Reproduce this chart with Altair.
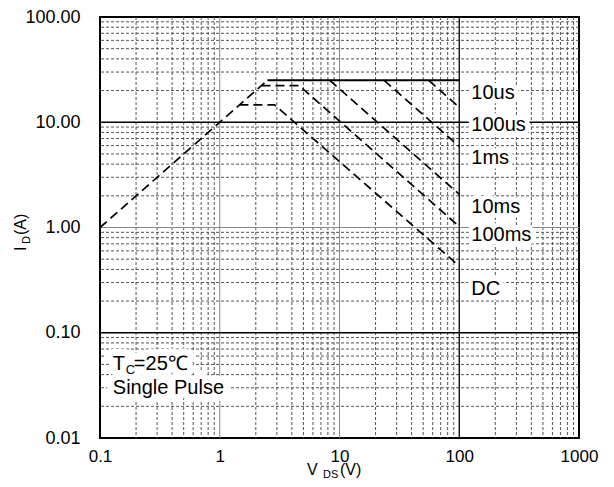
import altair as alt
import pandas as pd

# ---------------- data ----------------
x_ticks = [0.1, 1, 10, 100, 1000]
y_ticks = [0.01, 0.1, 1, 10, 100]

# R_DS(on) limit (rising line) and package current limit (flat line)
rise_v = [0.1, 2.5]
rise_i = [1.0, 25.0]
limit_v = [2.5, 100]
limit_i = [25.0, 25.0]

# pulse-width curves
us10_v = [55.6, 100]
us10_i = [25.0, 13.9]
us100_v = [23.6, 100]
us100_i = [25.0, 5.9]
ms1_v = [8.3, 100]
ms1_i = [25.0, 2.07]
ms10_v = [2.23, 4.6, 100]
ms10_i = [22.3, 22.3, 1.02]
ms100_v = [1.46, 2.87, 100]
ms100_i = [14.6, 14.6, 0.43]

label_text = ["10us", "100us", "1ms", "10ms", "100ms", "DC"]
label_v = [126, 126, 126, 126, 126, 126]
label_i = [18.8, 9.4, 4.57, 1.58, 0.84, 0.262]

note_v = [0.128]
note_i_line1 = [0.0439]
note_i_line2 = [0.026]

# ---------------- build tables ----------------
curves = []
for name, vs, is_ in [("rise", rise_v, rise_i), ("10us", us10_v, us10_i),
                      ("100us", us100_v, us100_i), ("1ms", ms1_v, ms1_i),
                      ("10ms", ms10_v, ms10_i), ("100ms", ms100_v, ms100_i)]:
    for k, (a, b) in enumerate(zip(vs, is_)):
        curves.append({"series": name, "order": k, "v": a, "i": b})
df_curves = pd.DataFrame(curves)
df_limit = pd.DataFrame({"v": limit_v, "i": limit_i, "order": [0, 1]})
df_labels = pd.DataFrame({"v": label_v, "i": label_i, "t": label_text})

minor_x = [m * d for d in x_ticks[:-1] for m in range(2, 10)]
minor_y = [m * d for d in y_ticks[:-1] for m in range(2, 10)]
major_x_dark = [100]
major_x_gray = [1, 10]
major_y_dark = [0.1, 10]
major_y_gray = [1]

xs = alt.Scale(type="log", domain=[0.1, 1000], nice=False)
ys = alt.Scale(type="log", domain=[0.01, 100], nice=False)
FONT = "Liberation Sans"

xaxis = alt.Axis(values=x_ticks, format="~g", grid=False, ticks=False, domain=False,
                 labelFont=FONT, labelFontSize=17, labelColor="black",
                 labelPadding=10, labelFlush=False, labelOverlap=False, title=None)
yaxis = alt.Axis(values=y_ticks, format=".2f", grid=False, ticks=False, domain=False,
                 labelFont=FONT, labelFontSize=18, labelColor="black",
                 labelPadding=20, labelFlush=False, labelOverlap=False, title=None)


def X(field="v"):
    return alt.X(f"{field}:Q", scale=xs, axis=xaxis)


def Y(field="i"):
    return alt.Y(f"{field}:Q", scale=ys, axis=yaxis)


def vgrid(vals, color, dash, width=1.0):
    m = alt.Chart(pd.DataFrame({"v": vals})).mark_rule(color=color, strokeWidth=width,
                                                       strokeDash=dash)
    return m.encode(x=X())


def hgrid(vals, color, dash, width=1.0):
    m = alt.Chart(pd.DataFrame({"i": vals})).mark_rule(color=color, strokeWidth=width,
                                                       strokeDash=dash)
    return m.encode(y=Y())


grid = (
    vgrid(minor_x, "#555555", [3, 2]) + hgrid(minor_y, "#555555", [3, 2])
    + vgrid(major_x_gray, "#8a8a8a", [1, 0]) + hgrid(major_y_gray, "#8a8a8a", [1, 0])
    + vgrid(major_x_dark, "#000000", [1, 0], 1.3) + hgrid(major_y_dark, "#000000", [1, 0], 1.3)
)

curve_layer = alt.Chart(df_curves).mark_line(color="black", strokeWidth=1.7,
                                             strokeDash=[9, 5]).encode(
    x=X(), y=Y(), detail="series:N", order="order:Q")

limit_layer = alt.Chart(df_limit).mark_line(color="black", strokeWidth=2).encode(
    x=X(), y=Y(), order="order:Q")

label_halo = alt.Chart(df_labels).mark_text(
    align="left", baseline="middle", font=FONT, fontSize=20, color="white",
    stroke="white", strokeWidth=9, strokeJoin="round").encode(x=X(), y=Y(), text="t:N")
label_text_layer = alt.Chart(df_labels).mark_text(
    align="left", baseline="middle", font=FONT, fontSize=20, color="black").encode(
    x=X(), y=Y(), text="t:N")

df_n1 = pd.DataFrame({"v": note_v, "i": note_i_line1})
df_n2 = pd.DataFrame({"v": note_v, "i": note_i_line2})


def note(df, txt, size=20, dx=0, dy=0, halo=False):
    kw = dict(align="left", baseline="alphabetic", font=FONT, fontSize=size, dx=dx, dy=dy)
    if halo:
        kw.update(color="white", stroke="white", strokeWidth=14, strokeJoin="round")
    else:
        kw.update(color="black")
    return alt.Chart(df).mark_text(**kw).encode(x=X(), y=Y(), text=alt.value(txt))


notes = (
    note(df_n1, "T", halo=True) + note(df_n1, "C", size=13, dx=13, dy=4, halo=True)
    + note(df_n1, "=25℃", dx=21, halo=True) + note(df_n2, "Single Pulse", halo=True)
    + note(df_n1, "T") + note(df_n1, "C", size=13, dx=13, dy=4)
    + note(df_n1, "=25℃", dx=21) + note(df_n2, "Single Pulse")
)


def ptext(txt, x, y, size=16, angle=0):
    kw = dict(align="left", baseline="alphabetic", font=FONT, fontSize=size, color="black")
    if angle:
        kw["angle"] = angle
    return alt.Chart(pd.DataFrame({"a": [0]})).mark_text(**kw).encode(
        x=alt.value(x), y=alt.value(y), text=alt.value(txt))


titles = (
    ptext("I", -74, 234, 16, 270) + ptext("D", -70, 227, 11, 270) + ptext("(A)", -74, 218, 16, 270)
    + ptext("V", 207, 458, 16) + ptext("DS", 223, 461, 11) + ptext("(V)", 240, 458, 16)
)

chart = alt.layer(grid, curve_layer, limit_layer, label_halo, label_text_layer, notes, titles).properties(
    width=479, height=421,
    autosize=alt.AutoSizeParams(type="none"),
    padding={"left": 92, "top": 9, "right": 27, "bottom": 41},
).configure(background="white").configure_view(stroke="black", strokeWidth=2)

chart.save("out.html", embed_options={"renderer": "svg", "actions": False})
